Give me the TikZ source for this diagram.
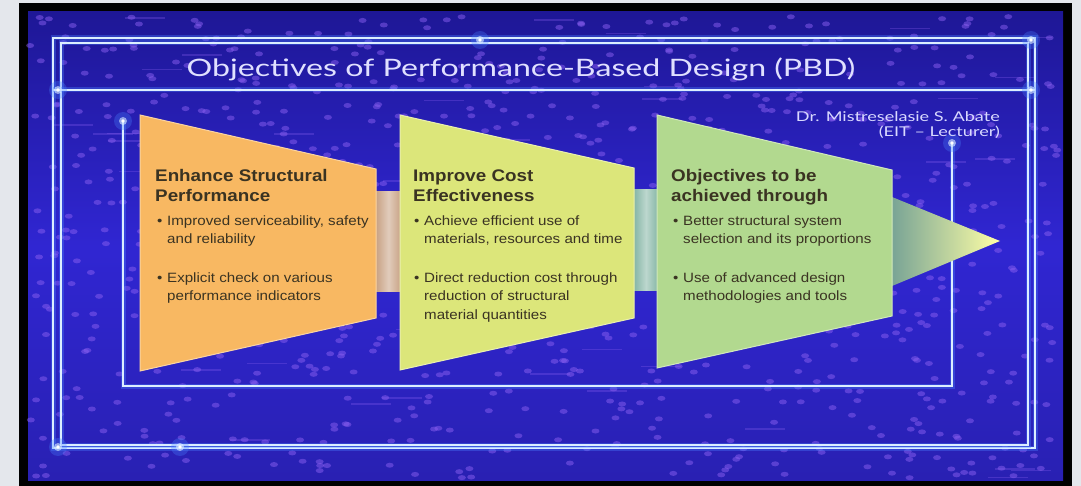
\documentclass[tikz,border=0pt]{standalone}
\usepackage{fontspec}
\setmainfont{Liberation Sans}[FakeStretch=1.12]
\newfontfamily\slidefont{Lato}[FakeStretch=1.34]
\usetikzlibrary{positioning}

\definecolor{pagegray}{HTML}{E4E7EC}
\definecolor{slidebg}{HTML}{3026D2}
\definecolor{slidetop}{HTML}{1E1796}
\definecolor{dotpurple}{HTML}{8A5FF0}
\definecolor{glowline}{HTML}{DCEEFF}
\definecolor{glowblue}{HTML}{4A82FF}
\definecolor{orangebox}{HTML}{F8B862}
\definecolor{yellowbox}{HTML}{DCE67A}
\definecolor{greenbox}{HTML}{B2D98F}
\definecolor{tanlink}{HTML}{C8A284}
\definecolor{teallink}{HTML}{86B6A6}
\definecolor{darktext}{HTML}{3A3322}

\newcommand\bl{\makebox[10pt][l]{\textbullet}}
\newcommand\ind{\hspace*{10pt}}

\tikzset{
  glow/.style={line width=5pt,glowblue,opacity=0.35},
  neon/.style={line width=1.3pt,glowline},
  head/.style={font=\fontsize{16.8}{20}\selectfont\bfseries,text=darktext,
    anchor=base west,align=left,inner sep=0pt},
  item/.style={font=\fontsize{13.5}{18}\selectfont,text=darktext,
    anchor=base west,align=left,inner sep=0pt},
}

\begin{document}
\begin{tikzpicture}[x=1pt,y=-1pt]
\useasboundingbox (0,0) rectangle (1081,486);
% page and slide
\fill[pagegray] (0,0) rectangle (1081,486);
\fill[black] (19,3) rectangle (1072,486);
\shade[top color=slidetop,bottom color=slidebg!85!black,middle color=slidebg] (28,12) rectangle (1063,480);
% texture
\pgfmathsetseed{11}
\foreach \k in {1,...,900}{
  \pgfmathsetmacro\px{30+1030*rnd}
  \pgfmathsetmacro\py{16+462*rnd}
  \fill[dotpurple,opacity=0.5] (\px,\py) ellipse (4 and 2.5);
}
\foreach \k in {1,...,60}{
  \pgfmathsetmacro\px{30+990*rnd}
  \pgfmathsetmacro\py{16+462*rnd}
  \draw[dotpurple,opacity=0.3,line width=1.5pt] (\px,\py) -- ++(40,0);
}

% neon frame
\foreach \p in {{(53,38) rectangle (1035,448)},{(61,43) rectangle (1028,445)},
                {(53,90) -- (1035,90)},{(123,121) -- (123,386) -- (952,386) -- (952,143)}}{
  \draw[glow] \p;
  \draw[neon] \p;
}
% glow spots
\foreach \g in {(58,90),(1031,90),(952,143),(123,121),(180,447),(480,40),(1031,40),(58,447)}{
  \fill[glowblue,opacity=0.3] \g circle (9);
  \fill[glowline,opacity=0.6] \g circle (4);
  \fill[white] \g circle (1.8);
}

% title
\node[font=\slidefont\fontsize{24}{28}\selectfont,text=white!88!blue,anchor=base,inner sep=0pt]
  (title) at (521,77) {Objectives of Performance-Based Design (PBD)};
\node[font=\slidefont\fontsize{13.5}{15}\selectfont,text=white!85!blue,anchor=base east,
  align=right,inner sep=0pt] (author) at (1000,137) {Dr. Mistreselasie S. Abate\\(EIT \textendash{} Lecturer)};

% links and arrow
\shade[left color=tanlink,right color=tanlink,middle color=tanlink!55!white] (376,192) rectangle (401,291);
\shade[left color=teallink,right color=teallink,middle color=teallink!55!white] (634,190) rectangle (658,290);
\shade[left color=teallink!90!black,right color=yellow!35!white] (892,197) -- (1000,241) -- (892,286) -- cycle;

% boxes
\fill[orangebox] (140,115) -- (376,169) -- (376,318) -- (140,371) -- cycle;
\draw[orangebox!60!white,line width=1pt] (140,115) -- (376,169) -- (376,318) -- (140,371) -- cycle;
\fill[yellowbox] (400,115) -- (634,168) -- (634,318) -- (400,370) -- cycle;
\draw[yellowbox!60!white,line width=1pt] (400,115) -- (634,168) -- (634,318) -- (400,370) -- cycle;
\fill[greenbox] (657,115) -- (892,170) -- (892,316) -- (657,368) -- cycle;
\draw[greenbox!60!white,line width=1pt] (657,115) -- (892,170) -- (892,316) -- (657,368) -- cycle;

% texts (anchored at baseline of last line)
\node[head] (orgHead) at (155,202) {Enhance Structural\\Performance};
\node[item] (orgItemA) at (157,244) {\bl Improved serviceability, safety\\\ind and reliability};
\node[item] (orgItemB) at (157,301) {\bl Explicit check on various\\\ind performance indicators};

\node[head] (ylwHead) at (413,202) {Improve Cost\\Effectiveness};
\node[item] (ylwItemA) at (414,244) {\bl Achieve efficient use of\\\ind materials, resources and time};
\node[item] (ylwItemB) at (414,319) {\bl Direct reduction cost through\\\ind reduction of structural\\\ind material quantities};

\node[head] (grnHead) at (671,202) {Objectives to be\\achieved through};
\node[item] (grnItemA) at (673,244) {\bl Better structural system\\\ind selection and its proportions};
\node[item] (grnItemB) at (673,301) {\bl Use of advanced design\\\ind methodologies and tools};
\end{tikzpicture}
\end{document}
